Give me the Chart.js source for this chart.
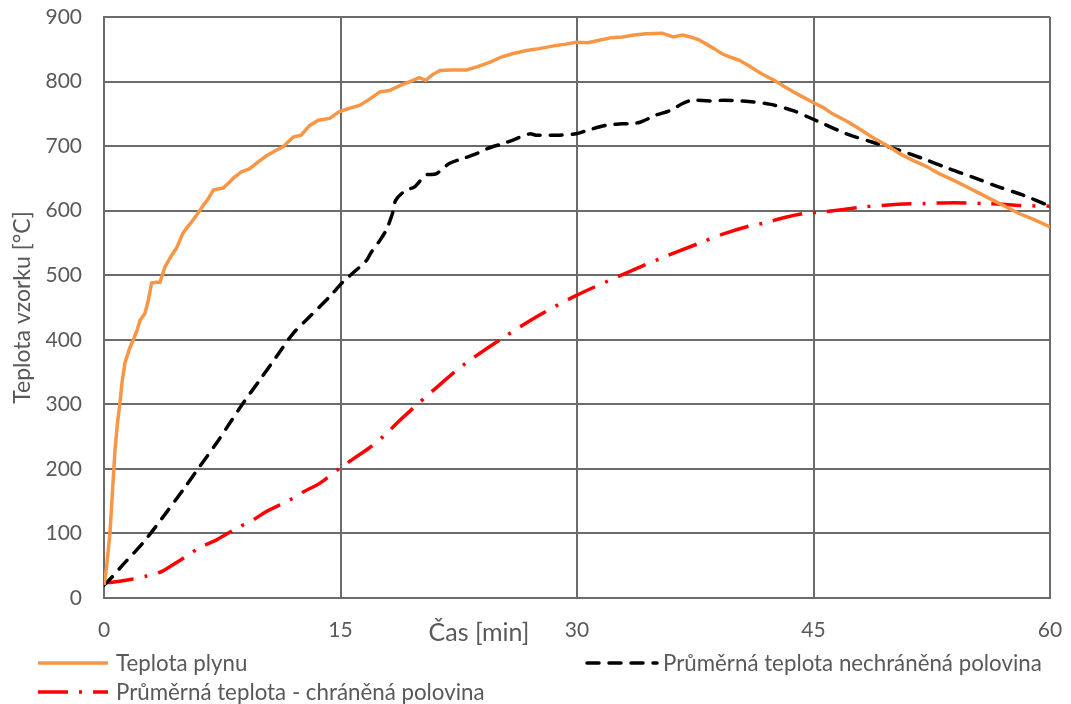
<!DOCTYPE html>
<html lang="cs">
<head>
<meta charset="utf-8">
<title>Teplota vzorku</title>
<script src="https://cdn.jsdelivr.net/npm/chart.js@4/dist/chart.umd.min.js"></script>
<style>
  html, body { margin: 0; padding: 0; background: #ffffff; }
  #wrap { width: 1071px; height: 704px; }
</style>
</head>
<body>
<div id="wrap"><canvas id="c" width="1071" height="704"></canvas></div>
<script>
// Axis ticks
const timeTicks = [0, 15, 30, 45, 60];
const tempTicks = [0, 100, 200, 300, 400, 500, 600, 700, 800, 900];

// Teplota plynu (gas temperature)
const gasTime = [0, 0.15, 0.38, 0.55, 0.7, 0.85, 1.01, 1.15, 1.33, 1.6, 1.86, 2.1, 2.28, 2.6, 2.8, 3.02, 3.3, 3.55, 3.87, 4.29,
  4.6, 5.0, 5.24, 5.6, 5.87, 6.29, 6.6, 6.93, 7.3, 7.56, 7.9, 8.19, 8.7, 9.25, 9.8, 10.31, 10.8, 11.36, 12.0, 12.5,
  13.05, 13.6, 14.32, 14.9, 15.5, 16.2, 16.8, 17.5, 18.1, 18.8, 19.4, 20.0, 20.4, 20.8, 21.3, 22.0, 23.0, 23.7, 24.5, 25.2,
  25.9, 26.8, 27.6, 28.7, 29.3, 29.95, 30.7, 31.4, 32.2, 32.9, 33.6, 34.4, 35.4, 36.1, 36.7, 37.2, 37.7, 38.2, 38.7, 39.2,
  39.7, 40.3, 41.0, 41.7, 42.5, 43.3, 44.1, 44.95, 45.6, 46.2, 47.0, 47.7, 48.7, 49.8, 50.5, 51.3, 52.2, 53.0, 53.9, 54.7,
  55.6, 56.4, 57.2, 58.0, 59.0, 60.0];
const gasTemp = [20, 45, 101, 170, 230, 270, 302, 335, 364, 385, 400, 415, 430, 441, 460, 488, 489, 489, 513, 531,
  542, 565, 573, 584, 593, 608, 618, 632, 634, 635, 643, 650, 660, 665, 676, 685, 692, 699, 714, 717,
  732, 740, 743, 753, 758, 763, 772, 784, 786, 794, 800, 806, 802, 810, 817, 818, 818, 823, 830, 838,
  843, 848, 851, 856, 858, 861, 860, 864, 868, 869, 872, 874, 875, 869, 872, 869, 865, 858, 851, 843,
  838, 833, 823, 812, 802, 790, 779, 768, 760, 750, 740, 730, 714, 699, 688, 678, 668, 657, 647, 637,
  626, 616, 606, 596, 586, 575];

// Průměrná teplota nechráněná polovina (unprotected half)
const openTime = [0, 0.38, 1.22, 2.49, 3.76, 5.03, 6.08, 7.14, 7.98, 8.83, 9.89, 10.94, 12.0, 13.05, 14.32, 15.17, 16.0, 16.65, 16.96, 17.5,
  17.9, 18.3, 18.5, 19.1, 19.7, 20.4, 21.05, 21.9, 22.8, 23.7, 24.3, 25.3, 25.9, 27.0, 27.4, 28.3, 28.9, 29.95, 30.6, 31.8,
  32.5, 33.3, 34.0, 35.0, 35.9, 36.7, 37.3, 38.4, 39.3, 40.5, 42.2, 43.7, 44.95, 45.6, 47.1, 48.75, 50.4, 51.9, 53.6, 55.1,
  56.6, 58.3, 60.0];
const openTemp = [20, 29, 52, 86, 126, 168, 204, 240, 271, 302, 338, 374, 410, 436, 467, 490, 508, 523, 536, 554,
  570, 596, 616, 631, 637, 655, 657, 673, 681, 689, 696, 704, 709, 719, 717, 717, 717, 719, 724, 732,
  734, 735, 737, 748, 755, 766, 771, 770, 771, 770, 765, 755, 742, 735, 719, 706, 694, 681, 665, 652,
  638, 624, 607];

// Průměrná teplota - chráněná polovina (protected half)
const shieldTime = [0, 1.0, 1.75, 2.7, 3.65, 4.4, 5.24, 6.08, 7.14, 8.41, 9.46, 10.3, 11.8, 12.7, 13.7, 14.96, 15.9, 16.8, 17.7, 18.8,
  19.6, 20.9, 22.8, 25.3, 27.6, 29.9, 32.7, 35.2, 37.8, 39.3, 40.9, 41.9, 43.1, 44.5, 45.6, 46.9, 48.3, 49.4, 50.4, 52.1,
  53.2, 54.7, 55.9, 57.0, 58.0, 60.0];
const shieldTemp = [23, 26, 29, 34, 41, 52, 65, 78, 90, 108, 121, 134, 152, 165, 178, 201, 217, 232, 250, 276,
  294, 322, 361, 403, 438, 468, 499, 525, 550, 564, 576, 581, 589, 596, 598, 602, 606, 608, 610, 611,
  612, 612, 611, 610, 608, 607];

const seriesNames = [
  'Teplota plynu',
  'Průměrná teplota nechráněná polovina',
  'Průměrná teplota - chráněná polovina'
];

const pairs = (xs, ys) => xs.map((x, i) => ({ x: x, y: ys[i] }));

const FONT = 'Lato, "Open Sans", sans-serif';
const TEXT = '#595959';
const GRID = '#6b6b6b';

// Legend laid out in two rows below the axis, plus the x-axis title
const legendAndTitle = {
  id: 'legendAndTitle',
  afterDraw(chart) {
    const ctx = chart.ctx;
    const spots = [
      { ds: 0, x0: 38, x1: 108, y: 663, tx: 116 },
      { ds: 1, x0: 587, x1: 657, y: 663, tx: 663 },
      { ds: 2, x0: 38, x1: 108, y: 692, tx: 116 }
    ];
    ctx.save();
    spots.forEach(s => {
      const d = chart.data.datasets[s.ds];
      ctx.beginPath();
      ctx.strokeStyle = d.borderColor;
      ctx.lineWidth = d.borderWidth;
      ctx.lineCap = d.borderCapStyle || 'butt';
      ctx.setLineDash(d.borderDash || []);
      ctx.moveTo(s.x0, s.y);
      ctx.lineTo(s.x1, s.y);
      ctx.stroke();
      ctx.setLineDash([]);
      ctx.fillStyle = TEXT;
      ctx.font = '22.3px ' + FONT;
      ctx.textAlign = 'left';
      ctx.textBaseline = 'middle';
      ctx.fillText(d.label, s.tx, s.y + 1);
    });
    ctx.font = '25px ' + FONT;
    ctx.textAlign = 'center';
    ctx.textBaseline = 'middle';
    ctx.fillStyle = TEXT;
    ctx.fillText('Čas [min]', 479, 633);
    ctx.restore();
  }
};

new Chart(document.getElementById('c'), {
  type: 'line',
  data: {
    datasets: [
      {
        label: seriesNames[0],
        data: pairs(gasTime, gasTemp),
        borderColor: '#f79646',
        borderWidth: 3.5,
        tension: 0,
        pointRadius: 0,
        fill: false
      },
      {
        label: seriesNames[1],
        data: pairs(openTime, openTemp),
        borderColor: '#000000',
        borderWidth: 3.5,
        borderDash: [12, 10],
        borderCapStyle: 'round',
        tension: 0.3,
        pointRadius: 0,
        fill: false
      },
      {
        label: seriesNames[2],
        data: pairs(shieldTime, shieldTemp),
        borderColor: '#ff0000',
        borderWidth: 3.5,
        borderDash: [30, 11, 3, 11],
        borderCapStyle: 'butt',
        tension: 0.3,
        pointRadius: 0,
        fill: false
      }
    ]
  },
  options: {
    responsive: false,
    devicePixelRatio: 1,
    animation: false,
    layout: { padding: { top: 17, right: 21, bottom: 0, left: 0 } },
    plugins: {
      legend: { display: false },
      tooltip: { enabled: false }
    },
    scales: {
      x: {
        type: 'linear',
        min: timeTicks[0],
        max: timeTicks[timeTicks.length - 1],
        afterBuildTicks: s => { s.ticks = timeTicks.map(v => ({ value: v })); },
        afterFit: s => { s.height = 106; },
        grid: { color: GRID, lineWidth: 2, drawTicks: true, tickLength: 20, tickColor: 'rgba(0,0,0,0)' },
        border: { color: GRID, width: 2 },
        ticks: { color: TEXT, font: { family: FONT, size: 21 }, padding: 0, maxRotation: 0 }
      },
      y: {
        min: tempTicks[0],
        max: tempTicks[tempTicks.length - 1],
        afterBuildTicks: s => { s.ticks = tempTicks.map(v => ({ value: v })); },
        afterFit: s => { s.width = 104; },
        grid: { color: GRID, lineWidth: 2, drawTicks: true, tickLength: 22, tickColor: 'rgba(0,0,0,0)' },
        border: { color: GRID, width: 2 },
        ticks: { color: TEXT, font: { family: FONT, size: 21 }, padding: 0 },
        title: {
          display: true,
          text: 'Teplota vzorku [°C]',
          color: TEXT,
          font: { family: FONT, size: 23 },
          padding: { top: 9, bottom: 0 }
        }
      }
    }
  },
  plugins: [legendAndTitle]
});
</script>
</body>
</html>
